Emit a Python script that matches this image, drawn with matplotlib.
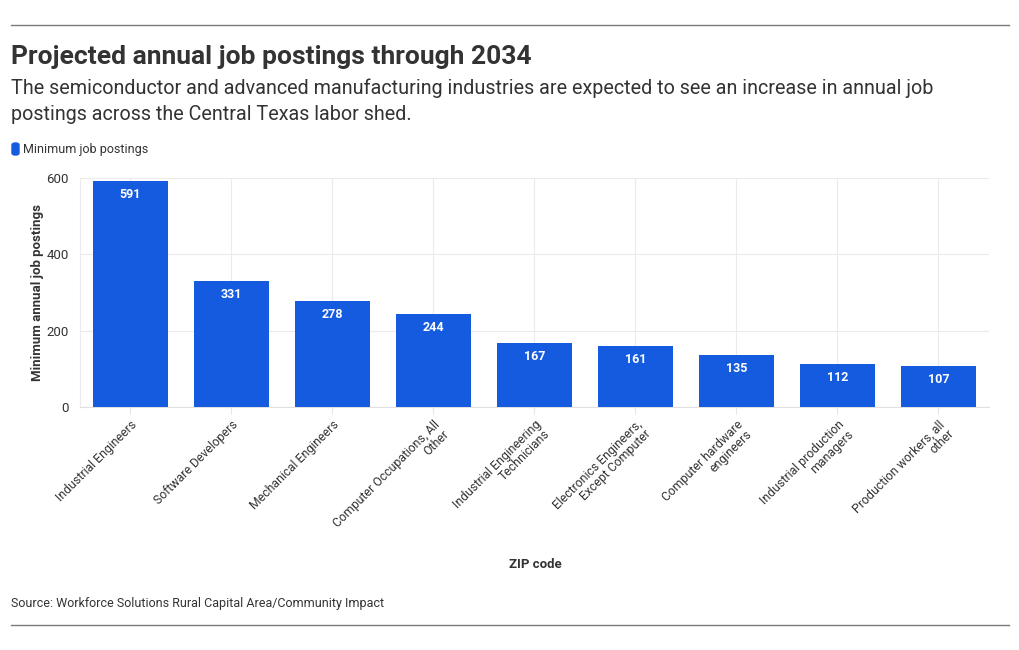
import matplotlib
matplotlib.use("Agg")
import matplotlib.pyplot as plt
from matplotlib.lines import Line2D
from matplotlib.patches import FancyBboxPatch

plt.rcParams['font.family'] = ['Roboto', 'DejaVu Sans']

occupations = [
    "Industrial Engineers",
    "Software Developers",
    "Mechanical Engineers",
    "Computer Occupations, All\nOther",
    "Industrial Engineering\nTechnicians",
    "Electronics Engineers,\nExcept Computer",
    "Computer hardware\nengineers",
    "Industrial production\nmanagers",
    "Production workers, all\nother",
]
min_postings = [591, 331, 278, 244, 167, 161, 135, 112, 107]
y_ticks = [0, 200, 400, 600]

blue = "#155be0"
dark = "#333333"

fig = plt.figure(figsize=(10.2, 6.5), dpi=100)
ax = fig.add_axes([0.0784, 0.3738, 0.8912, 0.3524])

x = list(range(len(occupations)))
ax.bar(x, min_postings, width=0.75, color=blue, zorder=3)
for xi, v in zip(x, min_postings):
    ax.annotate(str(v), (xi, v), xytext=(0, -5), textcoords="offset points",
                ha="center", va="top", color="white", fontsize=9, fontweight="bold", zorder=4)

ax.set_xlim(-0.5, len(occupations) - 0.5)
ax.set_ylim(0, 600)
ax.set_yticks(y_ticks)
ax.set_xticks(x)
ax.set_xticklabels(occupations, rotation=45, ha="right", rotation_mode="anchor",
                   fontsize=8.8, color=dark, linespacing=1.0, ma="right")
ax.tick_params(axis="y", length=0, labelsize=9.5, labelcolor=dark, pad=8)
ax.tick_params(axis="x", length=5, color="#e6e6e6", pad=3)
ax.grid(True, color="#ebebeb", linewidth=0.8, zorder=0)
for s in ["top", "right"]:
    ax.spines[s].set_visible(False)
ax.spines["left"].set_color("#ebebeb")
ax.spines["bottom"].set_color("#e0e0e0")
ax.spines["left"].set_linewidth(0.8)
ax.spines["bottom"].set_linewidth(0.8)

ax.set_ylabel("Minimum annual job postings", fontsize=9.5, fontweight="bold", color=dark, labelpad=2)
fig.text(535 / 1020, 1 - 565 / 650, "ZIP code", ha="center", va="center",
         fontsize=9.5, fontweight="bold", color=dark)

# header
fig.add_artist(Line2D([11 / 1020, 1009 / 1020], [1 - 25 / 650] * 2, color="#7a7a7a", linewidth=1))
fig.add_artist(Line2D([11 / 1020, 1009 / 1020], [1 - 625 / 650] * 2, color="#7a7a7a", linewidth=1))
fig.text(11 / 1020, 1 - 57 / 650, "Projected annual job postings through 2034", ha="left", va="center",
         fontsize=19, fontweight="bold", color=dark)
fig.text(11 / 1020, 1 - 101 / 650,
         "The semiconductor and advanced manufacturing industries are expected to see an increase in annual job\n"
         "postings across the Central Texas labor shed.",
         ha="left", va="center", fontsize=14.2, color=dark, linespacing=1.45)

# legend
fig.add_artist(FancyBboxPatch((12 / 1020, 1 - 155 / 650), 7 / 1020, 12 / 650,
                              boxstyle="round,pad=0,rounding_size=0.003", color=blue,
                              transform=fig.transFigure))
fig.text(23 / 1020, 1 - 149 / 650, "Minimum job postings", ha="left", va="center", fontsize=9, color=dark)

fig.text(11 / 1020, 1 - 603 / 650, "Source: Workforce Solutions Rural Capital Area/Community Impact",
         ha="left", va="center", fontsize=9, color=dark)

fig.savefig("out.png", dpi=100, facecolor="white")
